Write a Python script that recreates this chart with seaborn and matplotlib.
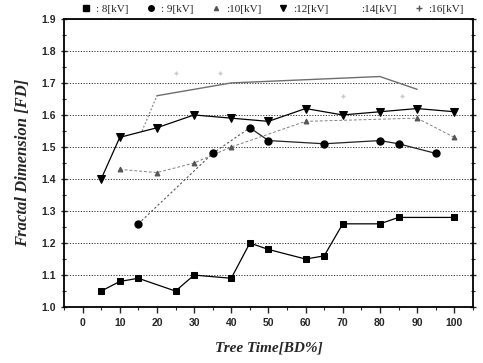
import matplotlib
matplotlib.use('Agg')
import matplotlib.pyplot as plt
import seaborn as sns
import pandas as pd
from matplotlib.ticker import MultipleLocator

# data
x_8kv = [5, 10, 15, 25, 30, 40, 45, 50, 60, 65, 70, 80, 85, 100]
y_8kv = [1.05, 1.08, 1.09, 1.05, 1.10, 1.09, 1.20, 1.18, 1.15, 1.16, 1.26, 1.26, 1.28, 1.28]

x_9kv = [15, 35, 45, 50, 65, 80, 85, 95]
y_9kv = [1.26, 1.48, 1.56, 1.52, 1.51, 1.52, 1.51, 1.48]

x_10kv = [10, 20, 30, 40, 60, 90, 100]
y_10kv = [1.43, 1.42, 1.45, 1.50, 1.58, 1.59, 1.53]

x_12kv = [5, 10, 20, 30, 40, 50, 60, 70, 80, 90, 100]
y_12kv = [1.40, 1.53, 1.56, 1.60, 1.59, 1.58, 1.62, 1.60, 1.61, 1.62, 1.61]

x_14kv = [16, 20, 40, 60, 80, 90]
y_14kv = [1.55, 1.66, 1.70, 1.71, 1.72, 1.68]

x_16kv = [25, 37, 70, 86]
y_16kv = [1.73, 1.73, 1.66, 1.66]

sns.set_style('ticks')
plt.rcParams['font.family'] = ['Liberation Sans', 'DejaVu Sans']

fig = plt.figure(figsize=(4.83, 3.63), dpi=100)
ax = fig.add_axes([0.1325, 0.154, 0.8465, 0.794])

df8 = pd.DataFrame({'t': x_8kv, 'fd': y_8kv})
df9 = pd.DataFrame({'t': x_9kv, 'fd': y_9kv})
df10 = pd.DataFrame({'t': x_10kv, 'fd': y_10kv})
df12 = pd.DataFrame({'t': x_12kv, 'fd': y_12kv})
df14 = pd.DataFrame({'t': x_14kv, 'fd': y_14kv})
df16 = pd.DataFrame({'t': x_16kv, 'fd': y_16kv})

# 14 kV: thin grey line, dotted start, no marker
sns.lineplot(data=df14.iloc[:2], x='t', y='fd', ax=ax, color='#8a8a8a', lw=0.9,
             linestyle=(0, (1.5, 1.5)))
sns.lineplot(data=df14.iloc[1:], x='t', y='fd', ax=ax, color='#6e6e6e', lw=1.0)
# 9 kV: dotted start, solid afterwards
sns.lineplot(data=df9.iloc[:3], x='t', y='fd', ax=ax, color='#555555', lw=0.8,
             linestyle=(0, (2, 2)))
sns.lineplot(data=df9.iloc[2:], x='t', y='fd', ax=ax, color='#222222', lw=0.9)
sns.lineplot(data=df10, x='t', y='fd', ax=ax, color='#808080', lw=0.7,
             linestyle=(0, (3, 2)), marker='^', markersize=3.5,
             markeredgecolor='#555555', markerfacecolor='#555555')
ax.plot(df9['t'], df9['fd'], 'o', color='black', markersize=5)
sns.lineplot(data=df8, x='t', y='fd', ax=ax, color='black', lw=0.9,
             marker='s', markersize=4.5, markeredgecolor='black')
sns.lineplot(data=df12, x='t', y='fd', ax=ax, color='black', lw=0.9,
             marker='v', markersize=6, markeredgecolor='black')
ax.plot(df16['t'], df16['fd'], '+', color='#c8c8c8', markersize=3)

handles = [
    plt.Line2D([], [], marker='s', color='black', ls='none', markersize=4),
    plt.Line2D([], [], marker='o', color='black', ls='none', markersize=4),
    plt.Line2D([], [], marker='^', color='#555555', ls='none', markersize=3),
    plt.Line2D([], [], marker='v', color='black', ls='none', markersize=5),
    plt.Line2D([], [], marker='none', color='white', ls='none'),
    plt.Line2D([], [], marker='+', color='#555555', ls='none', markersize=4),
]
labels = [': 8[kV]', ': 9[kV]', ':10[kV]', ':12[kV]', ':14[kV]', ':16[kV]']
fig.legend(handles, labels, loc='upper center', bbox_to_anchor=(0.565, 1.015),
           ncol=6, frameon=False, handlelength=0.8, handletextpad=0.5,
           columnspacing=1.6, prop={'family': 'Liberation Serif', 'size': 8})

ax.set_xlim(-5, 105)
ax.set_ylim(1.0, 1.9)
ax.xaxis.set_major_locator(MultipleLocator(10))
ax.xaxis.set_minor_locator(MultipleLocator(5))
ax.yaxis.set_major_locator(MultipleLocator(0.1))
ax.yaxis.set_minor_locator(MultipleLocator(0.05))
ax.set_xticks(range(0, 101, 10))
ax.set_yticks([1.0 + 0.1 * i for i in range(10)])
ax.set_yticklabels(['%.1f' % (1.0 + 0.1 * i) for i in range(10)])
ax.tick_params(axis='both', which='major', labelsize=7.5, length=4, width=1,
               direction='out')
ax.tick_params(axis='both', which='minor', length=2.5, width=0.8, direction='out')
ax.tick_params(axis='y', right=True, which='both', direction='inout')
for lbl in ax.get_xticklabels() + ax.get_yticklabels():
    lbl.set_fontweight('bold')

ax.yaxis.grid(True, color='#333333', linestyle=(0, (1.2, 1.6)), lw=0.7)
for sp in ax.spines.values():
    sp.set_linewidth(1.3)
    sp.set_color('black')

ax.set_xlabel('Tree Time[BD%]', fontsize=11, fontweight='bold', fontstyle='italic',
              family='Liberation Serif', labelpad=10)
ax.set_ylabel('Fractal Dimension [FD]', fontsize=12, fontweight='bold',
              fontstyle='italic', family='Liberation Serif', labelpad=8)

fig.savefig('out.png', dpi=100)
